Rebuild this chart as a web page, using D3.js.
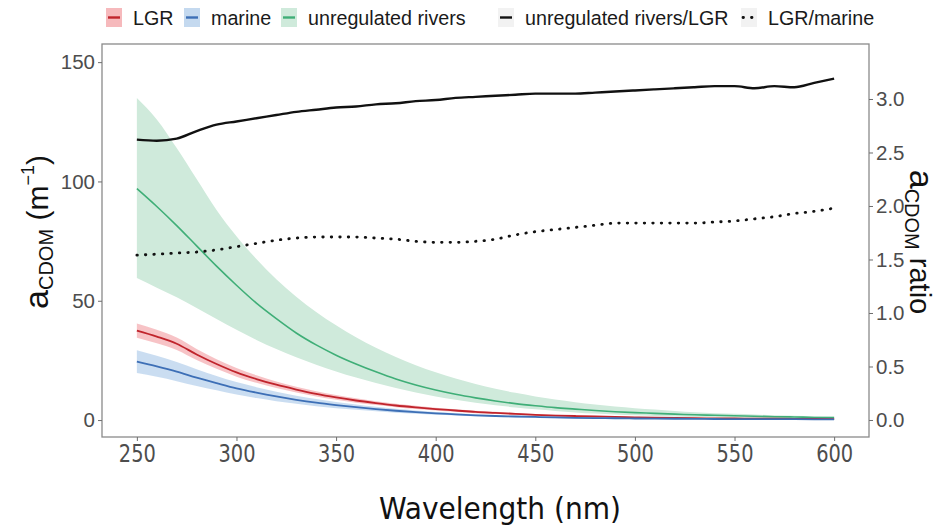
<!DOCTYPE html>
<html>
<head>
<meta charset="utf-8">
<script src="https://d3js.org/d3.v7.min.js"></script>
<style>
  body { margin: 0; background: #fff; }
  text { font-family: "Liberation Sans", Arial, sans-serif; }
  .narrow { font-family: "DejaVu Sans Condensed", "Liberation Sans", sans-serif; }
</style>
</head>
<body>
<svg width="951" height="527"></svg>
<script>
// wavelengths (nm), 10 nm steps
var wavelength = d3.range(250, 601, 10);

// aCDOM means (m^-1)
var lgrMean = [37.5, 35, 32, 27.5, 23.5, 20, 17.2, 14.8, 12.8, 11, 9.5, 8.2, 7.1, 6.1, 5.3, 4.6, 4, 3.4, 3, 2.6,
               2.2, 1.9, 1.7, 1.5, 1.3, 1.1, 1.0, 0.9, 0.8, 0.7, 0.65, 0.6, 0.55, 0.5, 0.45, 0.4];
var lgrSpread = [3, 2.8, 2.6, 2.3, 2, 1.8, 1.6, 1.4, 1.2, 1.1, 1, 0.9, 0.8, 0.7, 0.65, 0.6, 0.55, 0.5, 0.45, 0.4,
                 0.35, 0.3, 0.3, 0.25, 0.25, 0.2, 0.2, 0.2, 0.15, 0.15, 0.15, 0.1, 0.1, 0.1, 0.1, 0.1];
var marineMean = [24.5, 22.5, 20.3, 17.8, 15.5, 13.3, 11.5, 9.9, 8.5, 7.3, 6.3, 5.4, 4.6, 3.9, 3.3, 2.8, 2.4, 2.0, 1.7, 1.5,
                  1.3, 1.1, 0.95, 0.85, 0.75, 0.65, 0.6, 0.55, 0.5, 0.45, 0.42, 0.4, 0.38, 0.35, 0.32, 0.3];
var marineSpread = [4.8, 4.4, 4, 3.5, 3, 2.6, 2.3, 2, 1.7, 1.5, 1.3, 1.1, 0.95, 0.8, 0.7, 0.6, 0.5, 0.45, 0.4, 0.35,
                    0.3, 0.3, 0.25, 0.25, 0.2, 0.2, 0.2, 0.15, 0.15, 0.15, 0.1, 0.1, 0.1, 0.1, 0.1, 0.1];
var riversMean = [97, 89.5, 81.5, 73, 64.5, 56.5, 49, 42.5, 36.5, 31.5, 27.2, 23.5, 20.2, 17.2, 14.7, 12.6, 10.8, 9.3, 8.0, 6.9,
                  6.0, 5.2, 4.6, 4.0, 3.5, 3.1, 2.8, 2.5, 2.2, 2.0, 1.8, 1.6, 1.4, 1.3, 1.1, 1.0];
var riversUpper = [135, 126, 114, 101, 88, 77, 67.5, 59, 51.7, 45.3, 39.7, 34.7, 30.3, 26.4, 23, 20, 17.4, 15.1, 13.1, 11.4,
                   9.9, 8.6, 7.5, 6.5, 5.7, 5.0, 4.4, 3.8, 3.3, 2.9, 2.6, 2.3, 2.0, 1.8, 1.6, 1.4];
var riversLower = [59.5, 55.5, 51.5, 47, 42.3, 37.8, 33.6, 29.8, 26.3, 23.2, 20.4, 17.8, 15.5, 13.4, 11.5, 9.9, 8.5, 7.3, 6.2, 5.3,
                   4.5, 3.8, 3.2, 2.7, 2.3, 2.0, 1.7, 1.5, 1.3, 1.1, 1.0, 0.9, 0.8, 0.7, 0.6, 0.5];

// ratios (secondary axis)
var ratioRiversLgr = [2.62, 2.61, 2.63, 2.70, 2.76, 2.79, 2.82, 2.85, 2.88, 2.90, 2.92, 2.93, 2.95, 2.96, 2.98, 2.99, 3.01, 3.02, 3.03, 3.04,
                      3.05, 3.05, 3.05, 3.06, 3.07, 3.08, 3.09, 3.10, 3.11, 3.12, 3.12, 3.10, 3.12, 3.11, 3.15, 3.19];
var ratioLgrMarine = [1.54, 1.55, 1.56, 1.57, 1.59, 1.62, 1.65, 1.68, 1.70, 1.71, 1.71, 1.71, 1.70, 1.69, 1.67, 1.66, 1.66, 1.67, 1.69, 1.73,
                      1.76, 1.78, 1.80, 1.82, 1.84, 1.84, 1.84, 1.84, 1.84, 1.85, 1.86, 1.88, 1.90, 1.93, 1.95, 1.98];

var xTicks = [250, 300, 350, 400, 450, 500, 550, 600];
var yTicks = [0, 50, 100, 150];
var y2Ticks = [0, 0.5, 1, 1.5, 2, 2.5, 3];

var svg = d3.select("svg");
var panel = { left: 102, right: 869, top: 44, bottom: 437 };

var x = d3.scaleLinear().domain([232.5, 617.5]).range([panel.left, panel.right]);
var y = d3.scaleLinear().domain([-7.1, 157.6]).range([panel.bottom, panel.top]);
var y2 = d3.scaleLinear().domain([-0.159, 3.514]).range([panel.bottom, panel.top]);

var g = svg.append("g");

function band(lo, hi) {
    return d3.area()
        .x(function(d, i) { return x(wavelength[i]); })
        .y0(function(d, i) { return y(lo[i]); })
        .y1(function(d, i) { return y(hi[i]); })
        .curve(d3.curveMonotoneX)(wavelength);
}
function line(vals, scale) {
    return d3.line()
        .x(function(d, i) { return x(wavelength[i]); })
        .y(function(d, i) { return scale(vals[i]); })
        .curve(d3.curveMonotoneX)(wavelength);
}
function plus(a, b, s) { return a.map(function(v, i) { return v + s * b[i]; }); }

// ribbons
g.append("path").attr("d", band(riversLower, riversUpper)).attr("fill", "#cfeadb");
g.append("path").attr("d", band(plus(lgrMean, lgrSpread, -1), plus(lgrMean, lgrSpread, 1))).attr("fill", "#f6b9bc").attr("opacity", 0.85);
g.append("path").attr("d", band(plus(marineMean, marineSpread, -1), plus(marineMean, marineSpread, 1))).attr("fill", "#c4d9ef").attr("opacity", 0.9);

// mean lines
g.append("path").attr("d", line(riversMean, y)).attr("fill", "none").attr("stroke", "#3fae77").attr("stroke-width", 1.6);
g.append("path").attr("d", line(lgrMean, y)).attr("fill", "none").attr("stroke", "#c0242c").attr("stroke-width", 1.8);
g.append("path").attr("d", line(marineMean, y)).attr("fill", "none").attr("stroke", "#3d6fb6").attr("stroke-width", 1.8);

// ratio lines
g.append("path").attr("d", line(ratioRiversLgr, y2)).attr("fill", "none").attr("stroke", "#111").attr("stroke-width", 2.4);
g.append("path").attr("d", line(ratioLgrMarine, y2)).attr("fill", "none").attr("stroke", "#111")
    .attr("stroke-width", 2.8).attr("stroke-dasharray", "0.5,8").attr("stroke-linecap", "round");

// panel border
svg.append("rect").attr("x", panel.left).attr("y", panel.top)
    .attr("width", panel.right - panel.left).attr("height", panel.bottom - panel.top)
    .attr("fill", "none").attr("stroke", "#8a8a8a").attr("stroke-width", 1.3);

// axes
var xAxis = svg.append("g").attr("transform", "translate(0," + panel.bottom + ")")
    .call(d3.axisBottom(x).tickValues(xTicks).tickSize(4).tickPadding(3));
xAxis.selectAll("text").attr("class", "narrow").attr("font-size", 25).attr("fill", "#4d4d4d")
    .attr("textLength", 37).attr("lengthAdjust", "spacingAndGlyphs");

var yAxis = svg.append("g").attr("transform", "translate(" + panel.left + ",0)")
    .call(d3.axisLeft(y).tickValues(yTicks).tickSize(4).tickPadding(3));
yAxis.selectAll("text").attr("font-size", 20.5).attr("fill", "#4d4d4d");

var y2Axis = svg.append("g").attr("transform", "translate(" + panel.right + ",0)")
    .call(d3.axisRight(y2).tickValues(y2Ticks).tickSize(4).tickPadding(3).tickFormat(d3.format(".1f")));
y2Axis.selectAll("text").attr("font-size", 20.5).attr("fill", "#4d4d4d");

svg.selectAll(".domain").remove();
svg.selectAll(".tick line").attr("stroke", "#6e6e6e");
svg.selectAll(".tick text").attr("font-family", null);

// axis titles
svg.append("text").attr("class", "narrow").attr("x", 500).attr("y", 519)
    .attr("text-anchor", "middle").attr("font-size", 31).attr("fill", "#111")
    .attr("textLength", 242).attr("lengthAdjust", "spacingAndGlyphs").text("Wavelength (nm)");

var ly = svg.append("text").attr("transform", "translate(48,232) rotate(-90)")
    .attr("text-anchor", "middle").attr("fill", "#111");
ly.append("tspan").attr("font-size", 34).text("a");
ly.append("tspan").attr("font-size", 20).attr("dy", 5).text("CDOM");
ly.append("tspan").attr("font-size", 30).attr("dy", -5).text(" (m");
ly.append("tspan").attr("font-size", 18).attr("dy", -14).text("\u22121");
ly.append("tspan").attr("font-size", 30).attr("dy", 14).text(")");

var ry = svg.append("text").attr("transform", "translate(910,242) rotate(90)")
    .attr("text-anchor", "middle").attr("fill", "#111");
ry.append("tspan").attr("font-size", 34).text("a");
ry.append("tspan").attr("font-size", 20).attr("dy", 5).text("CDOM");
ry.append("tspan").attr("font-size", 29).attr("dy", -5).text(" ratio");

// legend
var legendItems = [
    { label: "LGR", x: 106, fill: "#f6b9bc", stroke: "#c0242c", dash: null },
    { label: "marine", x: 184, fill: "#c4d9ef", stroke: "#3d6fb6", dash: null },
    { label: "unregulated rivers", x: 281, fill: "#cfeadb", stroke: "#3fae77", dash: null },
    { label: "unregulated rivers/LGR", x: 498, fill: "#f2f2f2", stroke: "#111", dash: null },
    { label: "LGR/marine", x: 741, fill: "#f2f2f2", stroke: "#111", dash: "0.5,8" }
];
var leg = svg.append("g");
legendItems.forEach(function(d) {
    leg.append("rect").attr("x", d.x).attr("y", 8).attr("width", 16).attr("height", 19).attr("fill", d.fill);
    leg.append("line").attr("x1", d.x + 2).attr("x2", d.x + 14).attr("y1", 17.5).attr("y2", 17.5)
        .attr("stroke", d.stroke).attr("stroke-width", d.dash ? 2.8 : 2.4)
        .attr("stroke-dasharray", d.dash).attr("stroke-linecap", d.dash ? "round" : "butt");
    leg.append("text").attr("x", d.x + 27).attr("y", 24.5).attr("font-size", 19.7).attr("fill", "#1a1a1a").text(d.label);
});
</script>
</body>
</html>
